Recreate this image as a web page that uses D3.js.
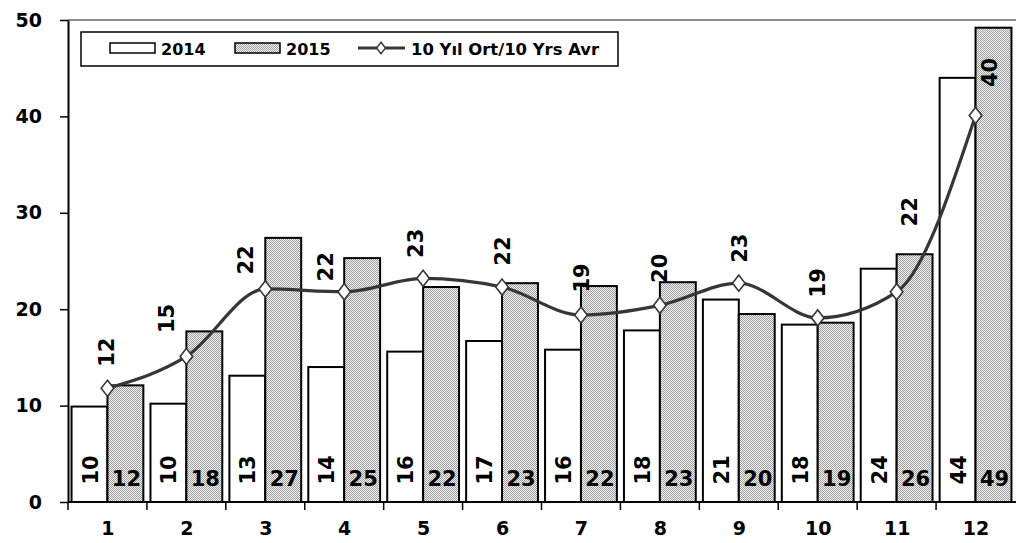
<!DOCTYPE html>
<html>
<head>
<meta charset="utf-8">
<script src="https://cdn.jsdelivr.net/npm/d3@7"></script>
<style>
  html, body { margin: 0; padding: 0; background: #fff; }
  svg { display: block; }
  text { font-family: "DejaVu Sans", Verdana, sans-serif; font-weight: bold; fill: #000; }
</style>
</head>
<body>
<svg id="chart" width="1016" height="543"></svg>
<script>
// ---- data ----
const months = ["1","2","3","4","5","6","7","8","9","10","11","12"];
const values2014 = [9.9, 10.2, 13.1, 14.0, 15.6, 16.7, 15.8, 17.8, 21.0, 18.4, 24.2, 44.0];
const values2015 = [12.1, 17.7, 27.4, 25.3, 22.3, 22.7, 22.4, 22.8, 19.5, 18.6, 25.7, 49.2];
const avg10 = [11.8, 15.1, 22.1, 21.8, 23.2, 22.3, 19.4, 20.4, 22.7, 19.1, 21.8, 40.1];
const yTicks = [0, 10, 20, 30, 40, 50];
const seriesNames = ["2014", "2015", "10 Yıl Ort/10 Yrs Avr"];

// ---- layout (label nudges for the average series, in px) ----
const avgLabelNudge = [[0,-36],[-19,-38],[-19,-29],[-18,-25],[-7,-35],[1,-36],[1,-37],[0,-37],[1,-35],[0,-35],[13,-80],[14,-43]];

(function () {
const svg = d3.select("#chart");
const pLeft = 68, pRight = 1015, pTop = 20, pBottom = 502;

// pattern
const defs = svg.append("defs");
const pat = defs.append("pattern").attr("id","checker").attr("patternUnits","userSpaceOnUse")
  .attr("width",2).attr("height",2);
pat.append("rect").attr("width",2).attr("height",2).attr("fill","#f6f6f6");
pat.append("rect").attr("x",0).attr("y",0).attr("width",1).attr("height",1).attr("fill","#9c9c9c");
pat.append("rect").attr("x",1).attr("y",1).attr("width",1).attr("height",1).attr("fill","#9c9c9c");

const x = d3.scaleBand().domain(months).range([pLeft, pRight]).paddingInner(0.09).paddingOuter(0.045);
const xSub = d3.scaleBand().domain(["2014","2015"]).range([0, x.bandwidth()]);
const xc = d3.scalePoint().domain(months).range([pLeft, pRight]).padding(0.5);
const y = d3.scaleLinear().domain([0, 50]).range([pBottom, pTop]);

// top border (gray)
svg.append("line").attr("x1", pLeft).attr("x2", 1016).attr("y1", pTop).attr("y2", pTop)
  .attr("stroke", "#8a8a8a").attr("stroke-width", 2);

// bars
const g = svg.append("g");
const rows = months.map((m, i) => ({ m, v14: values2014[i], v15: values2015[i] }));
g.selectAll("rect.b14").data(rows).join("rect").attr("class","b14")
  .attr("x", d => x(d.m) + xSub("2014")).attr("width", xSub.bandwidth())
  .attr("y", d => y(d.v14)).attr("height", d => y(0) - y(d.v14))
  .attr("fill", "#fff").attr("stroke", "#000").attr("stroke-width", 2);
g.selectAll("rect.b15").data(rows).join("rect").attr("class","b15")
  .attr("x", d => x(d.m) + xSub("2015")).attr("width", xSub.bandwidth())
  .attr("y", d => y(d.v15)).attr("height", d => y(0) - y(d.v15))
  .attr("fill", "url(#checker)").attr("stroke", "#000").attr("stroke-width", 2);

// bar labels
g.selectAll("text.l14").data(rows).join("text").attr("class","l14")
  .attr("transform", d => `translate(${x(d.m) + xSub("2014") + xSub.bandwidth()/2 + 1},${y(0) - 32}) rotate(-90)`)
  .attr("text-anchor","middle").attr("dominant-baseline","central")
  .style("font-size","21px").text(d => Math.round(d.v14));
g.selectAll("text.l15").data(rows).join("text").attr("class","l15")
  .attr("x", d => x(d.m) + xSub("2015") + xSub.bandwidth()/2 + 1)
  .attr("y", y(0) - 16)
  .attr("text-anchor","middle")
  .style("font-size","21px").text(d => Math.round(d.v15));

// axes
const yAxis = svg.append("g").attr("transform", `translate(${pLeft},0)`)
  .call(d3.axisLeft(y).tickValues(yTicks).tickSize(8).tickPadding(18).tickSizeOuter(0));
yAxis.select(".domain").attr("stroke","#000").attr("stroke-width",2);
yAxis.selectAll(".tick line").attr("stroke","#000").attr("stroke-width",1.5);
yAxis.selectAll(".tick text").style("font-size","19px").style("font-family","DejaVu Sans").style("font-weight","bold");

const xAxis = svg.append("g").attr("transform", `translate(0,${pBottom})`)
  .call(d3.axisBottom(xc).tickSize(0).tickPadding(20));
xAxis.select(".domain").remove();
xAxis.selectAll(".tick text").style("font-size","19px").style("font-family","DejaVu Sans").style("font-weight","bold");
svg.append("line").attr("x1", pLeft).attr("x2", 1016).attr("y1", pBottom).attr("y2", pBottom)
  .attr("stroke","#000").attr("stroke-width",2);
// category boundary ticks
const bounds = months.map(m => x(m) - x.step()*x.paddingInner()/2);
svg.selectAll("line.bt").data(bounds).join("line").attr("class","bt")
  .attr("x1", d => d).attr("x2", d => d).attr("y1", pBottom).attr("y2", pBottom + 8)
  .attr("stroke","#000").attr("stroke-width",1.5);

// average line
const pts = months.map((m, i) => ({ m, v: avg10[i], i }));
const line = d3.line().x(d => xc(d.m)).y(d => y(d.v)).curve(d3.curveMonotoneX);
svg.append("path").datum(pts).attr("d", line).attr("fill","none")
  .attr("stroke","#363636").attr("stroke-width",3.2);
const diamond = d3.symbol().type(d3.symbolDiamond).size(75);
svg.selectAll("path.mk").data(pts).join("path").attr("class","mk")
  .attr("d", diamond).attr("transform", d => `translate(${xc(d.m)},${y(d.v)}) scale(1.35,1)`)
  .attr("fill","#fff").attr("stroke","#363636").attr("stroke-width",1.3);
svg.selectAll("text.la").data(pts).join("text").attr("class","la")
  .attr("transform", d => `translate(${xc(d.m) + avgLabelNudge[d.i][0]},${y(d.v) + avgLabelNudge[d.i][1]}) rotate(-90)`)
  .attr("text-anchor","middle").attr("dominant-baseline","central")
  .style("font-size","21px").text(d => Math.round(d.v));

// legend
const lg = svg.append("g");
lg.append("rect").attr("x",81).attr("y",32).attr("width",537).attr("height",34)
  .attr("fill","#fff").attr("stroke","#000").attr("stroke-width",1.5);
lg.append("rect").attr("x",110).attr("y",43).attr("width",45).attr("height",10)
  .attr("fill","#fff").attr("stroke","#000").attr("stroke-width",1.5);
lg.append("text").attr("x",161).attr("y",55).style("font-size","16px").text(seriesNames[0]);
lg.append("rect").attr("x",235).attr("y",43).attr("width",45).attr("height",10)
  .attr("fill","url(#checker)").attr("stroke","#000").attr("stroke-width",1.5);
lg.append("text").attr("x",286).attr("y",55).style("font-size","16px").text(seriesNames[1]);
lg.append("line").attr("x1",358).attr("x2",405).attr("y1",48).attr("y2",48)
  .attr("stroke","#363636").attr("stroke-width",3);
lg.append("path").attr("d", d3.symbol().type(d3.symbolDiamond).size(40))
  .attr("transform","translate(381,48) scale(1.3,1)")
  .attr("fill","#fff").attr("stroke","#363636").attr("stroke-width",1.2);
lg.append("text").attr("x",411).attr("y",55).style("font-size","16px")
  .attr("textLength",188).attr("lengthAdjust","spacingAndGlyphs").text(seriesNames[2]);
})();
</script>
</body>
</html>
